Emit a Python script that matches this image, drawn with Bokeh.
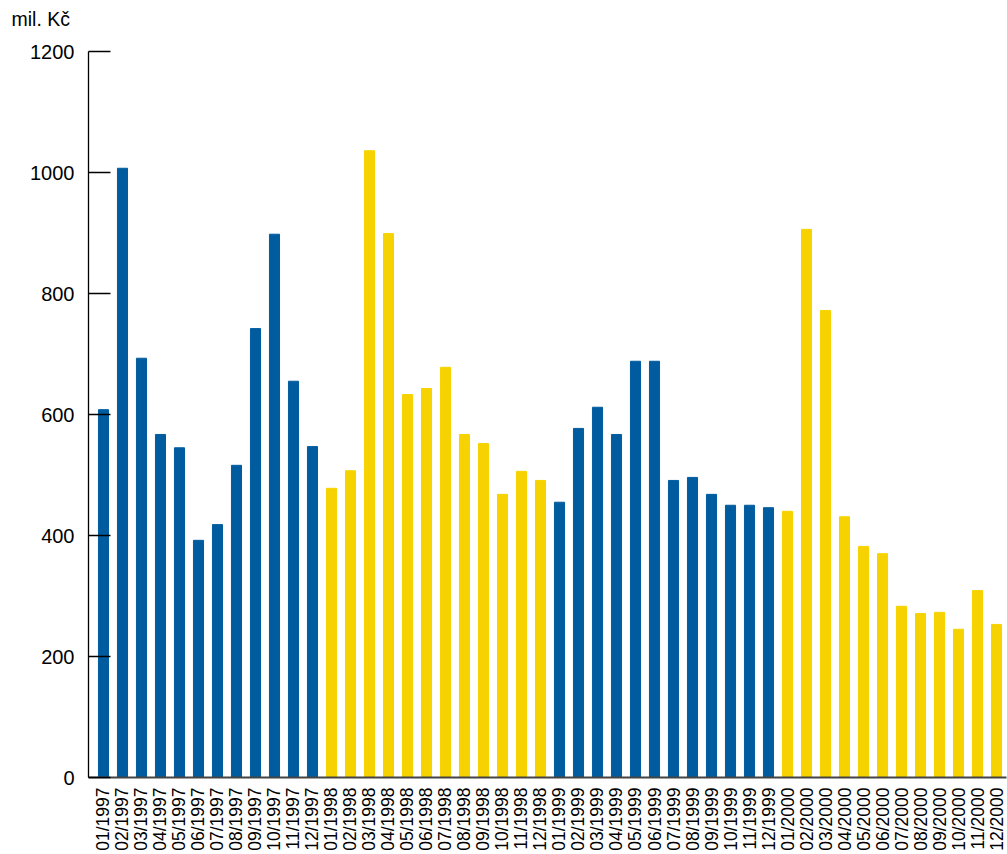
import math
from bokeh.plotting import figure
from bokeh.models import Range1d, FixedTicker, Title, ColumnDataSource
from bokeh.embed import file_html
from bokeh.resources import INLINE

months = ["01", "02", "03", "04", "05", "06", "07", "08", "09", "10", "11", "12"]
years = ["1997", "1998", "1999", "2000"]
labels = [f"{m}/{y}" for y in years for m in months]

values_1997 = [608, 1007, 693, 567, 545, 392, 418, 516, 742, 898, 655, 547]
values_1998 = [478, 507, 1036, 899, 633, 643, 678, 567, 552, 468, 506, 491]
values_1999 = [455, 577, 612, 567, 688, 688, 491, 496, 468, 450, 450, 446]
values_2000 = [440, 906, 772, 431, 382, 370, 283, 271, 273, 245, 309, 253]

unit_text = "mil. Kč"

blue = "#005C9F"
yellow = "#F6D300"
year_colors = [blue, yellow, blue, yellow]

values = values_1997 + values_1998 + values_1999 + values_2000
colors = [c for c in year_colors for _ in range(12)]
xs = list(range(len(values)))

src = ColumnDataSource(dict(x=xs, top=values, color=colors, label=labels))

W, H = 1007, 854
p = figure(width=W, height=H, output_backend="svg", toolbar_location=None,
           x_range=Range1d(-0.789, 47.526), y_range=Range1d(0, 1200),
           min_border_left=88, min_border_right=1, min_border_top=51, min_border_bottom=77)
p.outline_line_color = None
p.grid.grid_line_color = None
p.background_fill_color = "white"
p.border_fill_color = "white"

p.vbar(x="x", top="top", bottom=0, width=0.53, color="color", source=src)

font = "Liberation Sans"

# y axis
ya = p.yaxis[0]
ya.ticker = FixedTicker(ticks=[0, 200, 400, 600, 800, 1000, 1200])
ya.minor_tick_line_color = None
ya.major_tick_in = 22
ya.major_tick_out = 0
ya.major_tick_line_color = "black"
ya.major_tick_line_width = 1.3
ya.axis_line_color = "black"
ya.axis_line_width = 1.3
ya.major_label_text_font = font
ya.major_label_text_font_size = "20px"
ya.major_label_text_color = "black"
ya.major_label_standoff = 14

# x axis
xa = p.xaxis[0]
xa.ticker = FixedTicker(ticks=xs)
xa.major_label_overrides = {i: l for i, l in enumerate(labels)}
xa.minor_tick_line_color = None
xa.major_tick_in = 0
xa.major_tick_out = 0
xa.axis_line_color = "#444444"
xa.axis_line_width = 2
xa.major_label_orientation = math.pi / 2
xa.major_label_text_font = font
xa.major_label_text_font_size = "17.5px"
xa.major_label_text_color = "black"
xa.major_label_standoff = 10

spacer = Title(text=" ", text_font=font, text_font_size="1px", standoff=17,
               text_color="white")
p.add_layout(spacer, "above")

unit = Title(text=unit_text, align="left", offset=-77, text_font=font,
             text_font_size="19.5px", text_font_style="normal", text_color="black",
             vertical_align="top", standoff=0)
p.add_layout(unit, "above")

open("out.html", "w").write(file_html(p, INLINE))
